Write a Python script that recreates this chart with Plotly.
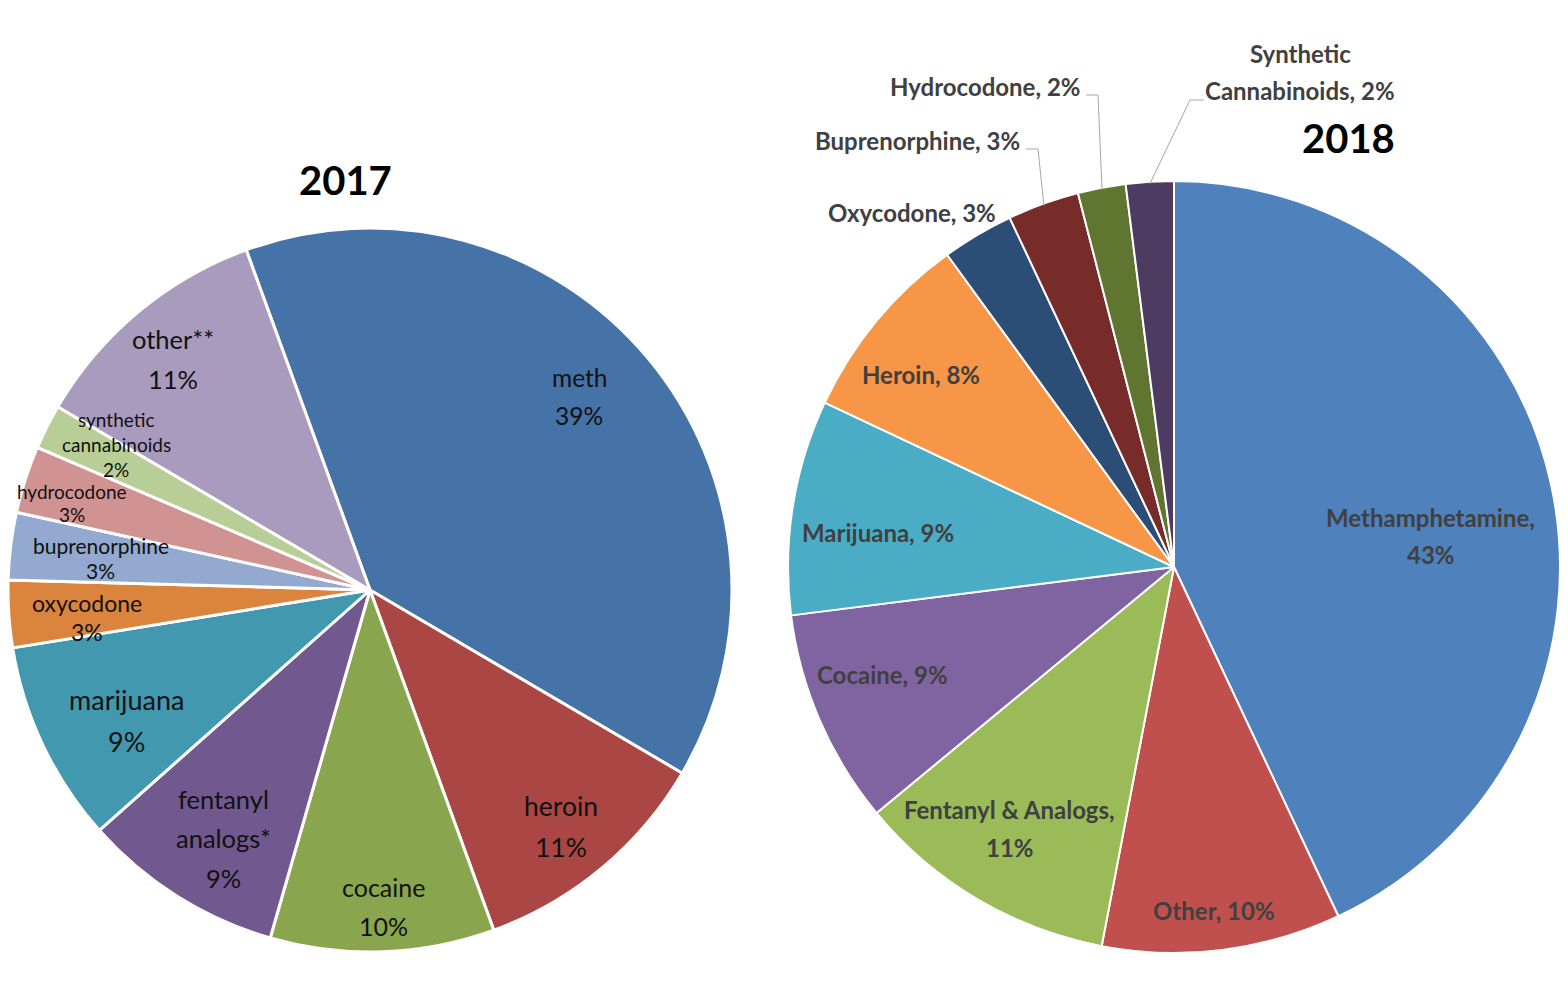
import math
import plotly.graph_objects as go

W, H = 1568, 995          # browser window
OFF = 8                   # default page margin around the plot div
FW, FH = W - 2 * OFF, H - 2 * OFF

# ---------------- data ----------------
labels_2017 = ["meth", "heroin", "cocaine", "fentanyl analogs*", "marijuana",
               "oxycodone", "buprenorphine", "hydrocodone",
               "synthetic cannabinoids", "other**"]
values_2017 = [39, 11, 10, 9, 9, 3, 3, 3, 2, 11]
display_2017 = [["meth"], ["heroin"], ["cocaine"], ["fentanyl", "analogs*"],
                ["marijuana"], ["oxycodone"], ["buprenorphine"], ["hydrocodone"],
                ["synthetic", "cannabinoids"], ["other**"]]

labels_2018 = ["Methamphetamine", "Other", "Fentanyl & Analogs", "Cocaine",
               "Marijuana", "Heroin", "Oxycodone", "Buprenorphine",
               "Hydrocodone", "Synthetic Cannabinoids"]
values_2018 = [43, 10, 11, 9, 9, 8, 3, 3, 2, 2]
display_2018 = [["Methamphetamine,", ""], ["Other, "], ["Fentanyl & Analogs,", ""],
                ["Cocaine, "], ["Marijuana, "], ["Heroin, "], ["Oxycodone, "],
                ["Buprenorphine, "], ["Hydrocodone, "], ["Synthetic", "Cannabinoids, "]]

# ---------------- styles ----------------
colors_2017 = ["#4572A7", "#AA4643", "#89A54E", "#71588F", "#4198AF",
               "#DB843D", "#93A9CF", "#D19392", "#B9CD96", "#A99BBD"]
colors_2018 = ["#4F81BD", "#C0504D", "#9BBB59", "#8064A2", "#4BACC6",
               "#F79646", "#2C4D75", "#772C2A", "#5F7530", "#4D3B62"]

FONT = "Lato"

# pie geometry (window pixels)
C17, R17, ROT17 = (370, 590), 362, -20
C18, R18, ROT18 = (1174, 567), 386, 0

# reference label anchor points (ellipse-normalised placement)
REF17 = dict(c=(352, 583), a=348, b=411)
REF18 = dict(c=(1205, 563), a=364, b=431)
pos17 = [(553, 363), (536, 852), (365, 942), (211, 865), (118, 731),
         (80, 614), (93, 547), (66, 484), (108, 418), (163, 321)]
size17 = [24.5, 26.5, 25, 25.5, 27, 23, 21, 19, 19, 25.5]
linek17 = [1.55, 1.55, 1.55, 1.55, 1.55, 1.25, 1.2, 1.2, 1.3, 1.55]
pos18 = [(1447, 528), (1243, 947), (1050, 855), (930, 683), (926, 524),
         (966, 348), None, None, None, None]
SIZE18 = 24
LINE_K = 1.55


def px(x):
    return (x - OFF) / FW


def py(y):
    return 1 - (y - OFF) / FH


def dom(c, r):
    return dict(x=[max(0, px(c[0] - r)), min(1, px(c[0] + r))],
                y=[max(0, py(c[1] + r)), min(1, py(c[1] - r))])


def map_pos(p, ref, c, r):
    u = (p[0] - ref["c"][0]) / ref["a"]
    v = (p[1] - ref["c"][1]) / ref["b"]
    return c[0] + r * u, c[1] + r * v


def mid_angle(values, i, rot):
    tot = sum(values)
    start = sum(values[:i]) / tot * 360
    return rot + start + values[i] / tot * 180


def edge_point(values, i, rot, c, r):
    a = math.radians(mid_angle(values, i, rot))
    return c[0] + r * math.sin(a), c[1] - r * math.cos(a)


ann = []


def add_label(lines, x, y, size, color, bold, xanchor="center", k=LINE_K):
    n = len(lines)
    step = k * size
    y0 = y - step * (n - 1) / 2
    for j, t in enumerate(lines):
        txt = f"<b>{t}</b>" if bold else t
        ann.append(dict(x=px(x), y=py(y0 + j * step), xref="paper", yref="paper",
                        text=txt, showarrow=False,
                        font=dict(family=FONT, size=size, color=color),
                        xanchor=xanchor, yanchor="middle"))


fig = go.Figure()
fig.add_trace(go.Pie(
    labels=labels_2017, values=values_2017, sort=False, direction="clockwise",
    rotation=ROT17, textinfo="none", hoverinfo="label+percent",
    marker=dict(colors=colors_2017, line=dict(color="white", width=3)),
    domain=dom(C17, R17), showlegend=False))
fig.add_trace(go.Pie(
    labels=labels_2018, values=values_2018, sort=False, direction="clockwise",
    rotation=ROT18, textinfo="none", hoverinfo="label+percent",
    marker=dict(colors=colors_2018, line=dict(color="white", width=2)),
    domain=dom(C18, R18), showlegend=False))

# 2017 labels
for i, (lines, v) in enumerate(zip(display_2017, values_2017)):
    x, y = map_pos(pos17[i], REF17, C17, R17)
    add_label(lines + [f"{v}%"], x, y, size17[i], "#111111", False, k=linek17[i])

# 2018 inside labels
for i, (lines, v) in enumerate(zip(display_2018, values_2018)):
    if pos18[i] is None:
        continue
    x, y = map_pos(pos18[i], REF18, C18, R18)
    lines = lines[:-1] + [lines[-1] + f"{v}%"]
    add_label(lines, x, y, SIZE18, "#404040", True)

# 2018 outside labels: index, anchor x, anchor y, xanchor, leader (start x, elbow x, y)
outside = [(6, 998, 212, "right", None),
           (7, 1022, 140, "right", (1026, 1038, 149)),
           (8, 1082, 86, "right", (1086, 1098, 95)),
           (9, 1300, 72, "center", (1204, 1190, 100))]
shapes = []
for i, lx, ly, xa, lead in outside:
    lines = display_2018[i][:-1] + [display_2018[i][-1] + f"{values_2018[i]}%"]
    add_label(lines, lx, ly, SIZE18, "#404040", True, xanchor=xa)
    if lead is not None:
        sx, ex, sy = lead
        tx, ty = edge_point(values_2018, i, ROT18, C18, R18 - 2)
        for (a0, b0, a1, b1) in [(sx, sy, ex, sy), (ex, sy, tx, ty)]:
            shapes.append(dict(type="line", xref="paper", yref="paper",
                               x0=px(a0), y0=py(b0), x1=px(a1), y1=py(b1),
                               line=dict(color="#A6A6A6", width=1)))

# titles
add_label(["2017"], 345, 180, 40, "#000000", True)
add_label(["2018"], 1348, 138, 40, "#000000", True)

fig.update_layout(width=FW, height=FH, margin=dict(l=0, r=0, t=0, b=0),
                  paper_bgcolor="white", plot_bgcolor="white",
                  annotations=ann, shapes=shapes, showlegend=False)

fig.write_html("out.html")
